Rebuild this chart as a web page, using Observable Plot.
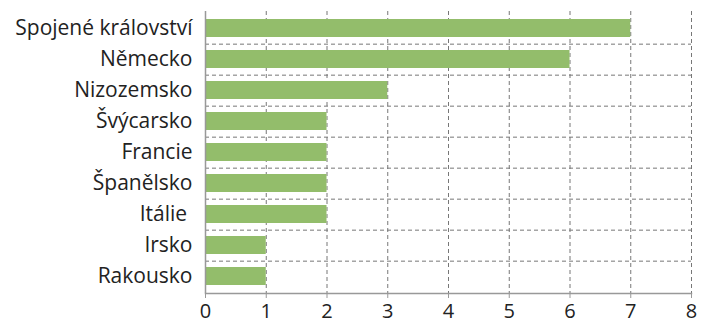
<!DOCTYPE html>
<html><head><meta charset="utf-8">
<script src="https://cdn.jsdelivr.net/npm/d3@7"></script>
<script src="https://cdn.jsdelivr.net/npm/@observablehq/plot@0.6"></script>
<style>body{margin:0;background:#fff}</style>
</head><body><div id="chart"></div>
<script>
const countries = ["Spojené království","Německo","Nizozemsko","Švýcarsko","Francie","Španělsko","Itálie\u00a0","Irsko","Rakousko"];
const values = [7,6,3,2,2,2,2,1,1];
const xTicks = [0,1,2,3,4,5,6,7,8];
const data = countries.map((c,i)=>({country:c, value:values[i]}));

const W=707,H=322,mt=11,mb=29,ml=205,mr=16;
const step=(H-mt-mb)/countries.length;
const chart = Plot.plot({
  width:W,height:H,marginTop:mt,marginBottom:mb,marginLeft:ml,marginRight:mr,
  style:{fontFamily:"'Open Sans', sans-serif",fontSize:"20px",color:"#222",background:"#fff"},
  x:{domain:[0,8],ticks:xTicks,label:null},
  y:{domain:countries,paddingInner:0.42,paddingOuter:0.21,label:null},
  marks:[
    Plot.ruleX(xTicks,{x:d=>d,stroke:"#777",strokeDasharray:"4,3",strokeWidth:1}),
    Plot.ruleY(countries.slice(0,-1),{y:d=>d,dy:step/2,stroke:"#777",strokeDasharray:"4,3",strokeWidth:1}),
    Plot.barX(data,{y:"country",x:"value",fill:"#93bd6b"}),
    Plot.ruleX([0],{stroke:"#999",strokeWidth:1.5}),
    Plot.frame({anchor:"bottom",stroke:"#999",strokeWidth:1.5}),
    Plot.axisX({ticks:xTicks,tickSize:5,tickPadding:5,stroke:"#999",fontSize:20,fill:"#222"}),
    Plot.axisY({tickSize:0,tickPadding:13,fontSize:21,fill:"#222"})
  ]
});
document.getElementById("chart").appendChild(chart);
</script></body></html>
